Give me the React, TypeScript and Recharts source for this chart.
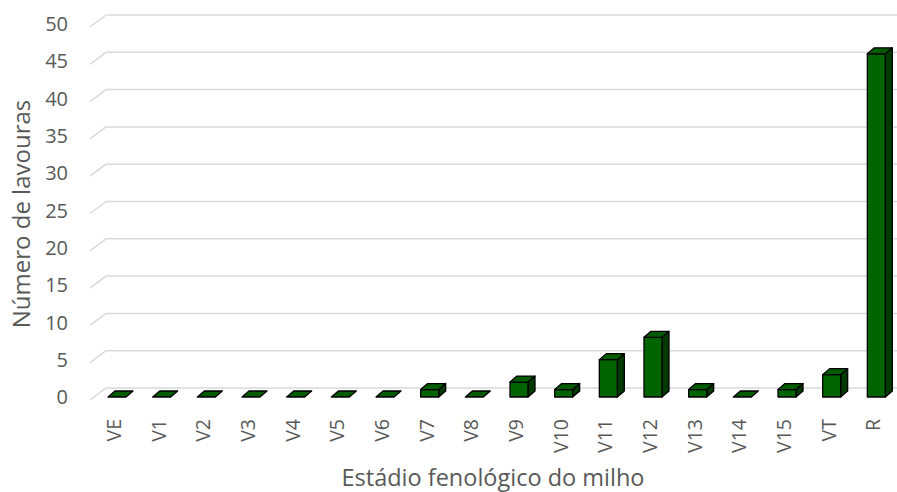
import React from 'react';
import { BarChart, Bar, XAxis, YAxis, CartesianGrid, Label } from 'recharts';

const categories = ['VE', 'V1', 'V2', 'V3', 'V4', 'V5', 'V6', 'V7', 'V8', 'V9', 'V10', 'V11', 'V12', 'V13', 'V14', 'V15', 'VT', 'R'];
const counts = [0, 0, 0, 0, 0, 0, 0, 1, 0, 2, 1, 5, 8, 1, 0, 1, 3, 46];
const yTicks = [0, 5, 10, 15, 20, 25, 30, 35, 40, 45, 50];

const data = categories.map((c, i) => ({ name: c, value: counts[i] }));

const FONT = '"Open Sans", "Liberation Sans", Arial, sans-serif';
const TEXT = '#595959';
const DX = 7;
const DY = -6;

const Box3D = (props: any) => {
  const { x, y, width, height } = props;
  const fx = x + 4;
  const w = width;
  const h = Math.max(0, height || 0);
  const top = `M${fx},${y} L${fx + DX},${y + DY} L${fx + w + DX},${y + DY} L${fx + w},${y} Z`;
  const side = `M${fx + w},${y} L${fx + w + DX},${y + DY} L${fx + w + DX},${y + h + DY} L${fx + w},${y + h} Z`;
  return (
    <g stroke="#000" strokeWidth={1.3} strokeLinejoin="round">
      {h > 0 && <path d={side} fill="#003a00" />}
      {h > 0 && <rect x={fx} y={y} width={w} height={h} fill="#006400" />}
      <path d={top} fill="#005a00" />
    </g>
  );
};

const GridLine = (props: any) => {
  const { x1, y1 } = props;
  const bx = x1 + 15;
  const by = y1 - 9;
  return (
    <g key={`g-${y1}`}>
      <line x1={x1 - 1} y1={y1 + 3} x2={bx} y2={by} stroke="#d9d9d9" strokeWidth={1.5} />
      <line x1={bx} y1={by} x2={897} y2={by} stroke="#d9d9d9" strokeWidth={1.5} />
    </g>
  );
};

const XTick = (props: any) => {
  const { x, y, payload } = props;
  return (
    <text
      x={x}
      y={y}
      transform={`rotate(-90, ${x}, ${y})`}
      textAnchor="end"
      dominantBaseline="central"
      fill={TEXT}
      fontSize={19.5}
      fontFamily={FONT}
    >
      {payload.value}
    </text>
  );
};

const YTitle = () => (
  <text
    x={20}
    y={214}
    transform="rotate(-90, 20, 214)"
    textAnchor="middle"
    dominantBaseline="central"
    fill={TEXT}
    fontSize={24}
    fontFamily={FONT}
  >
    Número de lavouras
  </text>
);

export default function App() {
  return (
    <div style={{ position: 'absolute', left: 0, top: 0, background: '#fff' }}>
      <BarChart
        width={897}
        height={492}
        data={data}
        margin={{ top: 24, right: 2, bottom: 0, left: 0 }}
        barCategoryGap={0}
      >
        <CartesianGrid vertical={false} horizontal={GridLine as any} />
        <XAxis
          dataKey="name"
          interval={0}
          axisLine={false}
          tickLine={false}
          height={95}
          tick={<XTick />}
          tickMargin={16}
        >
          <Label
            value="Estádio fenológico do milho"
            position="insideBottom"
            offset={6}
            fill={TEXT}
            fontSize={23.5}
            fontFamily={FONT}
          />
        </XAxis>
        <YAxis
          domain={[0, 50]}
          ticks={yTicks}
          interval={0}
          axisLine={false}
          tickLine={false}
          tickSize={0}
          tickMargin={23}
          width={91}
          tick={{ fill: TEXT, fontSize: 20, fontFamily: FONT }}
        >
          <Label content={<YTitle />} />
        </YAxis>
        <Bar dataKey="value" barSize={18} shape={<Box3D />} isAnimationActive={false} />
      </BarChart>
    </div>
  );
}
